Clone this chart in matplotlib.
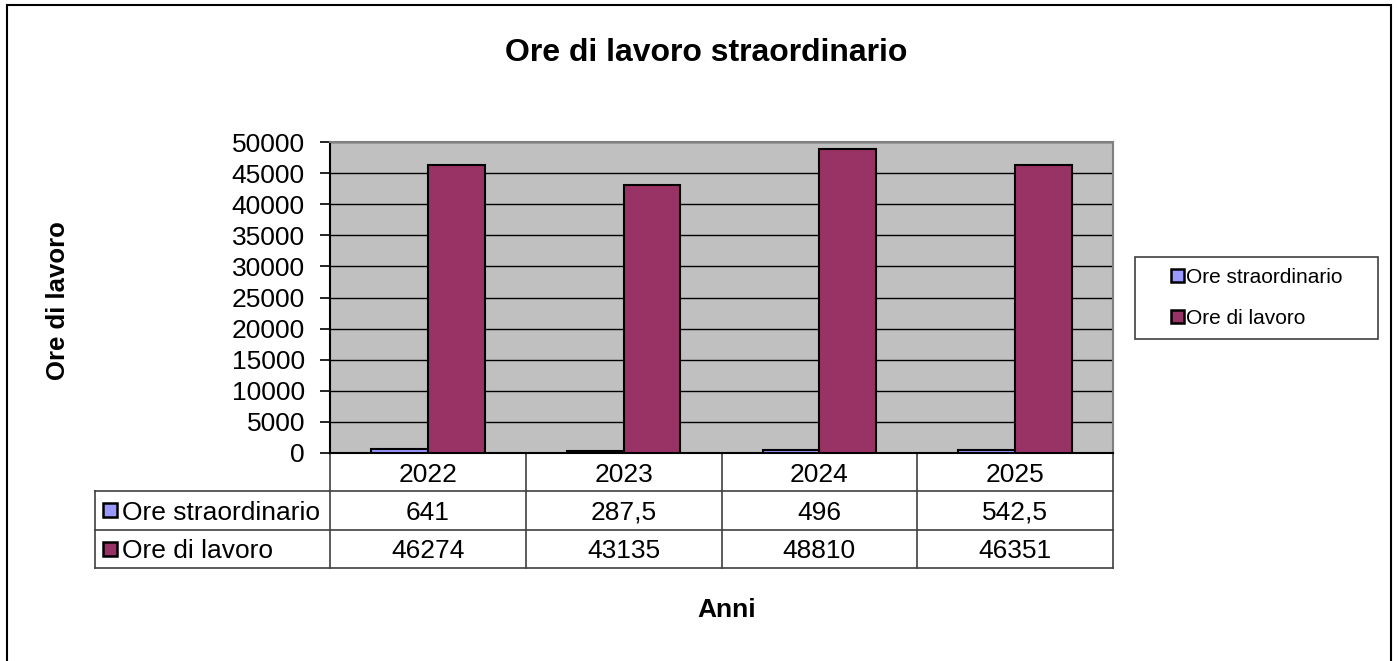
import numpy as np
import matplotlib.pyplot as plt
from matplotlib.patches import Rectangle

plt.rcParams['font.family'] = ['Liberation Sans', 'DejaVu Sans']

anni = ['2022', '2023', '2024', '2025']
ore_straordinario = [641, 287.5, 496, 542.5]
ore_lavoro = [46274, 43135, 48810, 46351]
etichette_str = ['641', '287,5', '496', '542,5']
etichette_lav = ['46274', '43135', '48810', '46351']
serie = ['Ore straordinario', 'Ore di lavoro']
colori = ['#9999FF', '#993366']

W, H = 1398, 661
fig = plt.figure(figsize=(W / 100, H / 100), dpi=100)

# plot area in pixel coords -> figure fraction
x0, x1, y0, y1 = 330, 1113, 142, 453
ax = fig.add_axes([x0 / W, 1 - y1 / H, (x1 - x0) / W, (y1 - y0) / H])
ax.set_facecolor('#C0C0C0')

x = np.arange(len(anni))
bw = 0.29
ax.bar(x - bw / 2, ore_straordinario, bw, color=colori[0], edgecolor='black', linewidth=1.5, zorder=3)
ax.bar(x + bw / 2, ore_lavoro, bw, color=colori[1], edgecolor='black', linewidth=1.5, zorder=3)

ax.set_xlim(-0.5, len(anni) - 0.5)
ax.set_ylim(0, 50000)
ax.set_yticks(np.arange(0, 50001, 5000))
ax.tick_params(axis='y', labelsize=19, length=7, width=1.2, direction='out', pad=11)
ax.set_xticks([])
ax.yaxis.grid(True, color='black', linewidth=1)
ax.set_axisbelow(True)
for s in ['top', 'right']:
    ax.spines[s].set_color('#808080')
    ax.spines[s].set_linewidth(1.5)
ax.spines['left'].set_linewidth(1.5)
ax.spines['bottom'].set_linewidth(1.5)

# data table below the plot area
tl = (95 - x0) / (x1 - x0)
row_h = 38.3 / (y1 - y0)
n = len(anni)
lc = '#404040'
px = 1.0 / (x1 - x0)
py = 1.0 / (y1 - y0)
for k in range(1, 4):
    yy = -k * row_h
    ax.plot([tl, 1], [yy, yy], color=lc, lw=1.2, transform=ax.transAxes, clip_on=False)
ax.plot([tl, tl], [-row_h, -3 * row_h], color=lc, lw=1.2, transform=ax.transAxes, clip_on=False)
for j in range(n + 1):
    ax.plot([j / n, j / n], [0, -3 * row_h], color=lc, lw=1.2, transform=ax.transAxes, clip_on=False)
righe = [anni, etichette_str, etichette_lav]
for r, vals in enumerate(righe):
    for j, v in enumerate(vals):
        ax.text((j + 0.5) / n, -(r + 0.5) * row_h - 9.5 * py, v, transform=ax.transAxes,
                ha='center', va='baseline', fontsize=19)
for r in range(2):
    yc = -(r + 1.5) * row_h
    ax.add_patch(Rectangle((tl + 8 * px, yc - 7 * py), 14 * px, 14 * py, transform=ax.transAxes,
                           facecolor=colori[r], edgecolor='black', lw=1.8, clip_on=False))
    ax.text(tl + 27 * px, yc - 9.5 * py, serie[r], transform=ax.transAxes, ha='left', va='baseline', fontsize=19)

# legend (frame drawn separately)
fig.patches.append(Rectangle((1135 / W, 1 - 339 / H), (1378 - 1135) / W, (339 - 257) / H,
                             transform=fig.transFigure, fill=False, edgecolor='#404040', lw=1.2))
fig.legend([Rectangle((0, 0), 1, 1, facecolor=c, edgecolor='black', lw=1.8) for c in colori], serie,
           loc='center left', bbox_to_anchor=(1171 / W, 1 - 298 / H),
           frameon=False, fontsize=15,
           handlelength=0.62, handleheight=0.62, handletextpad=0.12, labelspacing=1.05,
           borderpad=0, borderaxespad=0)

fig.text(706 / W, 1 - 53 / H, 'Ore di lavoro straordinario', ha='center', va='center',
         fontsize=23, fontweight='bold')
fig.text(58 / W, 1 - 301 / H, 'Ore di lavoro', ha='center', va='center', rotation=90,
         fontsize=18.5, fontweight='bold')
fig.text(727 / W, 1 - 610 / H, 'Anni', ha='center', va='center', fontsize=19, fontweight='bold')

# outer chart border
fig.patches.append(Rectangle((7 / W, -0.05), (1391 - 7) / W, 1 - 5 / H + 0.05, transform=fig.transFigure,
                             fill=False, edgecolor='black', lw=1.5))

fig.savefig('out.png', dpi=100)
